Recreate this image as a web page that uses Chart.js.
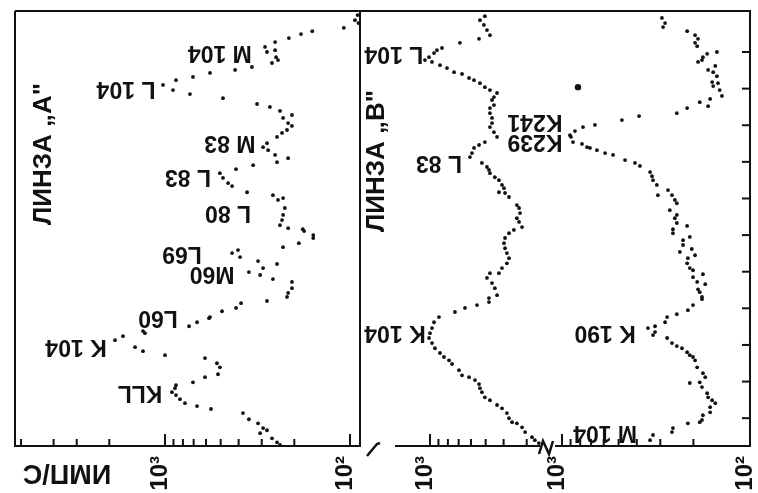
<!DOCTYPE html>
<html>
<head>
<meta charset="utf-8">
<script src="https://cdn.jsdelivr.net/npm/chart.js@4.4.1/dist/chart.umd.min.js"></script>
<style>
  body { margin: 0; background: #fff; }
  #wrap { position: relative; width: 758px; height: 493px; overflow: hidden; background: #fff; }
  canvas { position: absolute; left: 0; top: 0; }
</style>
</head>
<body>
<div id="wrap">
  <canvas id="lensA" width="758" height="493"></canvas>
  <canvas id="lensB1" width="758" height="493"></canvas>
  <canvas id="lensB2" width="758" height="493"></canvas>
</div>
<script>
// channel (vertical) and counts, imp/s (horizontal, log, reversed)
const chA = [110.1,108.7,107.9,106.6,105.7,104.9,103.8,102.7,101.4,100.0,
  100.5,98.6,97.8,97.0,95.9,95.1,94.3,93.2,92.3,91.0,
  89.6,88.5,87.4,85.8,85.0,83.9,82.8,82.0,80.6,79.8,
  78.7,77.9,76.8,75.1,74.0,73.2,71.9,69.9,71.0,69.1,
  68.0,66.9,65.6,64.2,63.4,61.7,60.9,59.6,60.1,57.4,
  55.5,54.1,52.7,51.9,51.6,51.1,50.0,49.2,47.8,46.7,
  45.9,45.1,44.0,42.1,42.9,41.0,39.1,39.9,38.0,37.2,
  35.5,34.2,33.1,32.0,31.4,30.1,29.2,27.6,27.3,26.2,
  25.1,23.8,23.2,22.4,21.3,19.4,18.3,17.2,16.4,15.0,
  13.9,12.0,11.2,9.8,9.0,8.2,7.1,6.3,5.2,4.1,
  3.3,2.5,1.4,-0.3,-1.4,-2.7,-3.3,-4.1,-5.5,-6.6,-7.3];
const cntA = [91,94,90,108,160,184,214,254,288,281,
  254,251,245,264,339,418,571,706,872,1025,
  905,733,486,318,271,239,206,230,216,206,
  219,233,248,281,295,277,254,248,216,334,
  413,505,486,456,434,360,261,245,230,225,
  230,233,239,216,180,177,158,158,189,230,
  403,434,393,248,314,295,306,352,261,206,
  206,216,219,281,388,413,492,571,578,671,
  741,1315,1283,1687,1862,1452,1315,1000,608,524,
  505,517,608,706,872,883,917,872,830,780,
  671,564,379,352,314,295,281,306,264,248,239];

const chB1 = [109.8,108.7,107.4,106.0,104.6,103.6,102.5,101.1,100.5,99.7,
  98.6,97.8,97.3,96.4,95.6,94.5,94.0,92.9,92.3,91.5,
  90.4,89.6,88.8,87.7,86.9,85.5,84.7,83.3,82.0,80.6,
  79.5,78.1,76.8,75.4,74.6,73.8,72.4,71.3,69.7,68.6,
  67.8,66.9,65.8,65.0,63.7,62.8,61.7,61.5,60.4,58.2,
  57.4,56.0,54.6,53.6,52.2,51.4,50.5,49.2,47.8,46.4,
  45.1,43.7,42.3,41.0,39.6,39.6,38.3,36.9,35.5,33.6,
  32.8,31.7,30.9,30.1,29.0,27.6,26.2,24.6,23.2,21.9,
  20.5,19.1,17.8,16.7,15.8,14.8,13.1,11.7,11.2,10.4,
  9.3,8.2,7.1,5.7,4.9,3.6,2.7,1.4,0,-1.1,
  -1.4,-2.5,-3.8,-5.2,-6.0,-6.8];
const cntB1 = [505,537,511,492,474,543,689,861,917,951,
  1012,1064,975,883,809,741,671,615,578,537,
  505,474,434,451,462,451,474,474,462,462,
  474,451,434,505,543,578,593,608,524,492,
  480,474,446,424,408,398,424,393,374,339,
  330,326,339,330,318,352,374,393,398,393,
  384,374,384,408,424,474,492,462,446,434,
  480,480,557,647,733,894,951,975,1000,1012,
  975,940,883,840,789,760,697,671,615,571,
  543,537,524,505,474,434,408,384,374,360,
  339,318,306,281,271,258];

const chB2 = [109.3,107.9,106.8,105.7,104.6,103.6,102.5,101.6,100.0,99.5,
  98.6,97.8,97.3,96.2,95.1,94.5,93.4,91.8,91.5,90.7,
  89.6,88.0,87.2,86.3,85.2,84.7,83.3,82.5,81.4,80.1,
  79.5,78.4,77.3,76.8,75.4,74.9,74.0,73.8,73.2,72.4,
  71.9,70.5,69.7,68.9,67.2,66.1,65.0,63.7,60.9,62.3,
  60.9,59.6,58.7,56.8,55.5,54.6,53.3,52.5,51.6,50.5,
  49.5,48.6,47.3,46.2,45.4,44.5,43.7,42.3,41.0,40.4,
  39.3,38.5,37.2,36.6,35.2,34.4,33.1,32.5,30.9,29.5,
  28.4,27.6,26.2,25.1,24.6,23.5,22.7,21.9,20.5,19.7,
  19.1,18.0,17.2,16.7,15.8,13.9,12.3,11.2,9.6,9.8,
  8.5,6.8,5.7,4.9,4.1,3.0,1.6,0.8,-0.5,-1.1,
  -1.4,-2.7,-3.8,-4.6,-6.0];
const cntB2 = [294,283,290,216,196,189,196,191,150,169,
  178,180,189,153,167,157,150,159,148,157,
  145,141,163,185,167,216,245,389,480,668,
  773,853,907,896,874,783,736,710,652,590,
  535,462,409,385,340,332,328,313,309,273,
  260,251,245,267,245,251,245,216,257,257,
  209,227,227,204,236,196,214,216,209,201,
  178,201,191,173,189,185,180,180,201,214,
  245,276,283,320,349,320,328,276,260,245,
  230,216,209,201,196,191,178,173,209,185,
  180,169,167,159,153,163,163,178,180,185,
  214,257,260,328,340];
const strayB2 = [{ y: 90.4, x: 822 }];

// axis ticks
const ticksA = [6000, 4000, 3000, 2000, 1000, 900, 800, 700, 600, 500, 400, 300, 200, 100];
const ticksB1 = [1000, 900, 800, 700, 600, 500, 400, 300];
const ticksB2 = [1000, 900, 800, 700, 600, 500, 400, 300, 200, 100];
const ticksY = [0, 10, 20, 30, 40, 50, 60, 70, 80, 90, 100];

// peak labels
const peakA = ["M 104", "L 104", "M 83", "L 83", "L 80", "L69", "M60", "L60", "K 104", "KLL"];
const peakChA = [100.0, 90.2, 75.4, 66.1, 56.3, 45.1, 39.6, 27.6, 19.7, 7.1];
const peakCntA = [505, 1625, 446, 751, 456, 809, 557, 1091, 3027, 1365];
const peakB1 = ["L 104", "L 83", "K 104", "K241", "K239"];
const peakChB1 = [99.5, 69.9, 23.5, 81.1, 75.7];
const peakCntB1 = [1566, 894, 1546, 271, 271];
const peakB2 = ["K 190", "M 104"];
const peakChB2 = [23.5, -3.8];
const peakCntB2 = [590, 590];

const INK = "#111";
const FONT = '"Liberation Sans", Arial, sans-serif';

function isDecade(v) {
  const l = Math.log10(v);
  return Math.abs(l - Math.round(l)) < 1e-6;
}

function tickText(v) {
  if (v === 1000) return "10³";
  if (v === 100) return "10²";
  return "";
}

function rotText(ctx, text, x, y, angle, size) {
  ctx.save();
  ctx.translate(x, y);
  ctx.rotate(angle);
  ctx.font = "bold " + size + "px " + FONT;
  ctx.fillStyle = INK;
  ctx.textAlign = "center";
  ctx.textBaseline = "middle";
  ctx.fillText(text, 0, 0);
  ctx.restore();
}

function seg(ctx, pts, w) {
  ctx.save();
  ctx.strokeStyle = INK;
  ctx.lineWidth = w || 2;
  ctx.beginPath();
  ctx.moveTo(pts[0][0], pts[0][1]);
  for (let i = 1; i < pts.length; i++) ctx.lineTo(pts[i][0], pts[i][1]);
  ctx.stroke();
  ctx.restore();
}

function drawXTicks(chart) {
  const sx = chart.scales.x, b = chart.chartArea.bottom;
  sx.ticks.forEach(t => {
    const px = sx.getPixelForValue(t.value);
    seg(chart.ctx, [[px, b], [px, b - (isDecade(t.value) ? 12 : 7)]], 2);
  });
}

function drawPeaks(chart, texts, chs, cnts) {
  const sx = chart.scales.x, sy = chart.scales.y;
  texts.forEach((t, i) => {
    rotText(chart.ctx, t, sx.getPixelForValue(cnts[i]), sy.getPixelForValue(chs[i]), Math.PI, 23);
  });
}

function makeChart(id, c) {
  const sets = [{
    data: c.ch.map((v, i) => ({ x: c.cnt[i], y: v })),
    pointRadius: 1.9, pointBackgroundColor: INK, pointBorderWidth: 0, clip: false
  }];
  if (c.extra) sets.push({ data: c.extra, pointRadius: 3.2, pointBackgroundColor: INK, pointBorderWidth: 0, clip: false });
  return new Chart(document.getElementById(id), {
    type: "scatter",
    data: { datasets: sets },
    options: {
      responsive: false,
      animation: false,
      events: [],
      layout: { padding: { left: c.left, right: 758 - c.right, top: 11, bottom: 0 } },
      plugins: { legend: { display: false }, tooltip: { enabled: false } },
      scales: {
        x: {
          type: "logarithmic", reverse: true, min: c.min, max: c.max,
          afterBuildTicks: s => { s.ticks = c.ticks.map(v => ({ value: v })); },
          afterFit: s => { s.height = 47; s.paddingLeft = 0; s.paddingRight = 0; },
          grid: { display: false, drawTicks: false },
          border: { display: false },
          ticks: {
            autoSkip: false, minRotation: 90, maxRotation: 90, padding: 10, labelOffset: -5,
            color: INK, font: { family: FONT, size: 24, weight: "bold" },
            callback: v => tickText(v)
          }
        },
        y: { type: "linear", min: -7.6, max: 111.2, display: false }
      }
    },
    plugins: [{ id: "deco", afterDraw: chart => c.deco(chart, chart.ctx, chart.chartArea) }]
  });
}

// lens A
makeChart("lensA", {
  ch: chA, cnt: cntA, min: 88.3, max: 6468, ticks: ticksA, left: 15, right: 360,
  deco(chart, ctx, a) {
    seg(ctx, [[a.left, a.top], [a.right, a.top], [a.right, a.bottom], [a.left, a.bottom], [a.left, a.top]], 2);
    drawXTicks(chart);
    drawPeaks(chart, peakA, peakChA, peakCntA);
    rotText(ctx, "ЛИНЗА „A\"", a.left + 29, a.top + 143, -Math.PI / 2, 26);
    rotText(ctx, "ИМП/С", a.left + 52, a.bottom + 26, Math.PI, 27);
  }
});

// lens B, left scale
makeChart("lensB1", {
  ch: chB1, cnt: cntB1, min: 230.2, max: 2389, ticks: ticksB1, left: 360, right: 548,
  deco(chart, ctx, a) {
    seg(ctx, [[a.right, a.top], [a.left, a.top], [a.left, a.bottom]], 2);
    seg(ctx, [[a.left + 35, a.bottom], [a.right - 8, a.bottom]], 2);
    seg(ctx, [[a.left + 7, a.bottom + 10], [a.left + 17, a.bottom - 2], [a.left + 20, a.bottom - 3]], 2.5);
    seg(ctx, [[a.right - 9, a.bottom + 8], [a.right - 5, a.bottom - 5], [a.right + 1, a.bottom + 8], [a.right + 5, a.bottom - 5]], 2.5);
    drawXTicks(chart);
    drawPeaks(chart, peakB1, peakChB1, peakCntB1);
    rotText(ctx, "ЛИНЗА „B\"", a.left + 17, a.top + 150, -Math.PI / 2, 26);
  }
});

// lens B, right scale
makeChart("lensB2", {
  ch: chB2, cnt: cntB2, extra: strayB2, min: 100, max: 1187, ticks: ticksB2, left: 548, right: 750,
  deco(chart, ctx, a) {
    seg(ctx, [[a.left, a.top], [a.right, a.top], [a.right, a.bottom], [a.left + 7, a.bottom]], 2);
    const sy = chart.scales.y;
    ticksY.forEach(v => {
      const py = sy.getPixelForValue(v);
      seg(ctx, [[a.right - 8, py], [a.right, py]], 2);
    });
    drawXTicks(chart);
    drawPeaks(chart, peakB2, peakChB2, peakCntB2);
  }
});
</script>
</body>
</html>
